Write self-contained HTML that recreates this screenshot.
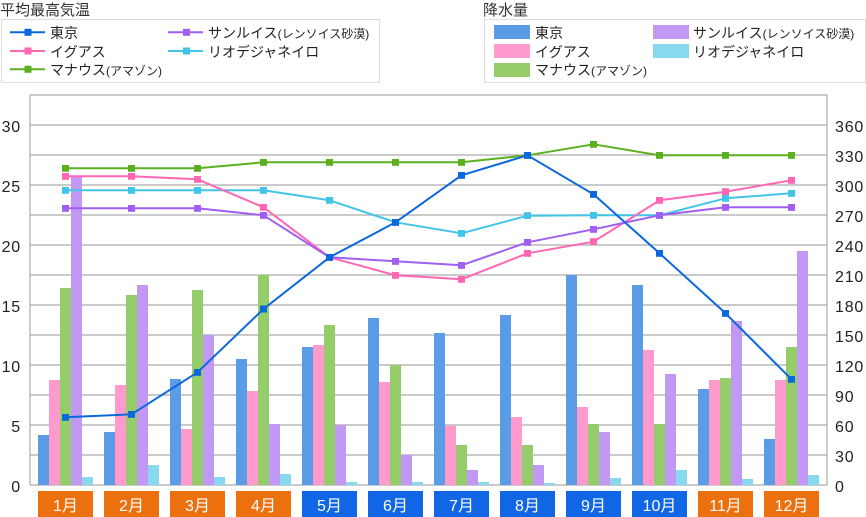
<!DOCTYPE html>
<html><head><meta charset="utf-8"><style>
html,body{margin:0;padding:0;background:#fff;}
svg{display:block;font-family:"Liberation Sans","Noto Sans CJK JP",sans-serif;}
</style></head><body>
<svg width="866" height="517" viewBox="0 0 866 517" xmlns="http://www.w3.org/2000/svg">
<defs>
<marker id="mb" markerWidth="7" markerHeight="7" refX="3.5" refY="3.5" markerUnits="userSpaceOnUse"><rect width="7" height="7" fill="#0a68dc"/></marker>
<marker id="mp" markerWidth="7" markerHeight="7" refX="3.5" refY="3.5" markerUnits="userSpaceOnUse"><rect width="7" height="7" fill="#ff66b3"/></marker>
<marker id="mg" markerWidth="7" markerHeight="7" refX="3.5" refY="3.5" markerUnits="userSpaceOnUse"><rect width="7" height="7" fill="#5bb020"/></marker>
<marker id="mv" markerWidth="7" markerHeight="7" refX="3.5" refY="3.5" markerUnits="userSpaceOnUse"><rect width="7" height="7" fill="#a05ff0"/></marker>
<marker id="mc" markerWidth="7" markerHeight="7" refX="3.5" refY="3.5" markerUnits="userSpaceOnUse"><rect width="7" height="7" fill="#42c3e8"/></marker>
</defs>

<!-- Titles -->
<text x="0" y="15" font-size="15" fill="#333">平均最高気温</text>
<text x="483" y="15" font-size="15" fill="#333">降水量</text>

<!-- Left legend -->
<rect x="1.5" y="19.5" width="378" height="63" fill="#fff" stroke="#ddd"/>
<g stroke-width="2">
<line x1="10" y1="32.3" x2="45" y2="32.3" stroke="#0a68dc"/>
<line x1="10" y1="51" x2="45" y2="51" stroke="#ff66b3"/>
<line x1="10" y1="69.3" x2="45" y2="69.3" stroke="#5bb020"/>
<line x1="168" y1="32.3" x2="203" y2="32.3" stroke="#a05ff0"/>
<line x1="168" y1="51" x2="203" y2="51" stroke="#42c3e8"/>
</g>
<rect x="24.5" y="28.8" width="7" height="7" fill="#0a68dc"/>
<rect x="24.5" y="47.5" width="7" height="7" fill="#ff66b3"/>
<rect x="24.5" y="65.8" width="7" height="7" fill="#5bb020"/>
<rect x="183" y="28.8" width="7" height="7" fill="#a05ff0"/>
<rect x="183" y="47.5" width="7" height="7" fill="#42c3e8"/>
<g font-size="14" fill="#222">
<text x="50" y="38">東京</text>
<text x="50" y="57">イグアス</text>
<text x="50" y="75">マナウス<tspan font-size="12">(アマゾン)</tspan></text>
<text x="208" y="38">サンルイス<tspan font-size="12">(レンソイス砂漠)</tspan></text>
<text x="208" y="57">リオデジャネイロ</text>
</g>

<!-- Right legend -->
<rect x="484.5" y="19.5" width="381" height="63" fill="#fff" stroke="#ddd"/>
<rect x="494" y="25" width="36" height="14" fill="#5a9de6"/>
<rect x="494" y="44" width="36" height="14" fill="#ff9acc"/>
<rect x="494" y="63" width="36" height="14" fill="#95cd6b"/>
<rect x="653" y="25" width="36" height="14" fill="#c298f5"/>
<rect x="653" y="44" width="36" height="14" fill="#88d8f0"/>
<g font-size="14" fill="#222">
<text x="535" y="38">東京</text>
<text x="535" y="57">イグアス</text>
<text x="535" y="75">マナウス<tspan font-size="12">(アマゾン)</tspan></text>
<text x="693" y="38">サンルイス<tspan font-size="12">(レンソイス砂漠)</tspan></text>
<text x="693" y="57">リオデジャネイロ</text>
</g>

<!-- Grid -->
<g stroke="#aaa" stroke-width="1.2">
<line x1="30" y1="95" x2="827" y2="95"/>
<line x1="30" y1="125" x2="827" y2="125"/>
<line x1="30" y1="155" x2="827" y2="155"/>
<line x1="30" y1="185" x2="827" y2="185"/>
<line x1="30" y1="215" x2="827" y2="215"/>
<line x1="30" y1="245" x2="827" y2="245"/>
<line x1="30" y1="275" x2="827" y2="275"/>
<line x1="30" y1="305" x2="827" y2="305"/>
<line x1="30" y1="335" x2="827" y2="335"/>
<line x1="30" y1="365" x2="827" y2="365"/>
<line x1="30" y1="395" x2="827" y2="395"/>
<line x1="30" y1="425" x2="827" y2="425"/>
<line x1="30" y1="455" x2="827" y2="455"/>
<line x1="30" y1="485" x2="827" y2="485"/>
<line x1="30" y1="95" x2="30" y2="485"/>
<line x1="827" y1="95" x2="827" y2="485"/>
</g>

<!-- Axis labels -->
<g font-size="16" fill="#222" text-anchor="end" letter-spacing="0.8">
<text x="21" y="132">30</text>
<text x="21" y="192">25</text>
<text x="21" y="252">20</text>
<text x="21" y="312">15</text>
<text x="21" y="372">10</text>
<text x="21" y="432">5</text>
<text x="21" y="492">0</text>
</g>
<g font-size="16" fill="#222" letter-spacing="0.8">
<text x="835" y="132">360</text>
<text x="835" y="162">330</text>
<text x="835" y="192">300</text>
<text x="835" y="222">270</text>
<text x="835" y="252">240</text>
<text x="835" y="282">210</text>
<text x="835" y="312">180</text>
<text x="835" y="342">150</text>
<text x="835" y="372">120</text>
<text x="835" y="402">90</text>
<text x="835" y="432">60</text>
<text x="835" y="462">30</text>
<text x="835" y="492">0</text>
</g>

<!-- Bars: blue -->
<g fill="#5a9de6">
<rect x="38" y="435" width="11" height="50"/>
<rect x="104" y="432" width="11" height="53"/>
<rect x="170" y="379" width="11" height="106"/>
<rect x="236" y="359" width="11" height="126"/>
<rect x="302" y="347" width="11" height="138"/>
<rect x="368" y="318" width="11" height="167"/>
<rect x="434" y="333" width="11" height="152"/>
<rect x="500" y="315" width="11" height="170"/>
<rect x="566" y="275" width="11" height="210"/>
<rect x="632" y="285" width="11" height="200"/>
<rect x="698" y="389" width="11" height="96"/>
<rect x="764" y="439" width="11" height="46"/>
</g>
<g fill="#ff9acc">
<rect x="49" y="380" width="11" height="105"/>
<rect x="115" y="385" width="11" height="100"/>
<rect x="181" y="429" width="11" height="56"/>
<rect x="247" y="391" width="11" height="94"/>
<rect x="313" y="345" width="11" height="140"/>
<rect x="379" y="382" width="11" height="103"/>
<rect x="445" y="426" width="11" height="59"/>
<rect x="511" y="417" width="11" height="68"/>
<rect x="577" y="407" width="11" height="78"/>
<rect x="643" y="350" width="11" height="135"/>
<rect x="709" y="380" width="11" height="105"/>
<rect x="775" y="380" width="11" height="105"/>
</g>
<g fill="#95cd6b">
<rect x="60" y="288" width="11" height="197"/>
<rect x="126" y="295" width="11" height="190"/>
<rect x="192" y="290" width="11" height="195"/>
<rect x="258" y="275" width="11" height="210"/>
<rect x="324" y="325" width="11" height="160"/>
<rect x="390" y="365" width="11" height="120"/>
<rect x="456" y="445" width="11" height="40"/>
<rect x="522" y="445" width="11" height="40"/>
<rect x="588" y="424" width="11" height="61"/>
<rect x="654" y="424" width="11" height="61"/>
<rect x="720" y="378" width="11" height="107"/>
<rect x="786" y="347" width="11" height="138"/>
</g>
<g fill="#c298f5">
<rect x="71" y="177" width="11" height="308"/>
<rect x="137" y="285" width="11" height="200"/>
<rect x="203" y="335" width="11" height="150"/>
<rect x="269" y="424" width="11" height="61"/>
<rect x="335" y="425" width="11" height="60"/>
<rect x="401" y="455" width="11" height="30"/>
<rect x="467" y="470" width="11" height="15"/>
<rect x="533" y="465" width="11" height="20"/>
<rect x="599" y="432" width="11" height="53"/>
<rect x="665" y="374" width="11" height="111"/>
<rect x="731" y="321" width="11" height="164"/>
<rect x="797" y="251" width="11" height="234"/>
</g>
<g fill="#88d8f0">
<rect x="82" y="477" width="11" height="8"/>
<rect x="148" y="465" width="11" height="20"/>
<rect x="214" y="477" width="11" height="8"/>
<rect x="280" y="474" width="11" height="11"/>
<rect x="346" y="482" width="11" height="3"/>
<rect x="412" y="482" width="11" height="3"/>
<rect x="478" y="482" width="11" height="3"/>
<rect x="544" y="483" width="11" height="2"/>
<rect x="610" y="478" width="11" height="7"/>
<rect x="676" y="470" width="11" height="15"/>
<rect x="742" y="479" width="11" height="6"/>
<rect x="808" y="475" width="11" height="10"/>
</g>

<!-- Lines -->
<g fill="none" stroke-width="2" stroke-linejoin="round">
<polyline stroke="#42c3e8" marker-start="url(#mc)" marker-mid="url(#mc)" marker-end="url(#mc)" points="65.5,190.3 131.5,190.3 197.5,190.3 263.5,190.3 329.5,200.3 395.5,222.3 461.5,233.3 527.5,215.7 593.5,215.3 659.5,215.3 725.5,198.3 791.5,193.3"/>
<polyline stroke="#5bb020" marker-start="url(#mg)" marker-mid="url(#mg)" marker-end="url(#mg)" points="65.5,168.3 131.5,168.3 197.5,168.3 263.5,162.3 329.5,162.3 395.5,162.3 461.5,162.3 527.5,155.3 593.5,144.3 659.5,155.3 725.5,155.3 791.5,155.3"/>
<polyline stroke="#ff66b3" marker-start="url(#mp)" marker-mid="url(#mp)" marker-end="url(#mp)" points="65.5,176.3 131.5,176.3 197.5,179.3 263.5,207.3 329.5,257.3 395.5,275.3 461.5,279.3 527.5,253.3 593.5,241.7 659.5,200.3 725.5,191.7 791.5,180.3"/>
<polyline stroke="#a05ff0" marker-start="url(#mv)" marker-mid="url(#mv)" marker-end="url(#mv)" points="65.5,208.3 131.5,208.3 197.5,208.3 263.5,215.3 329.5,257.3 395.5,261.3 461.5,265.3 527.5,242.3 593.5,229.3 659.5,215.3 725.5,207.3 791.5,207.3"/>
<polyline stroke="#0a68dc" marker-start="url(#mb)" marker-mid="url(#mb)" marker-end="url(#mb)" points="65.5,417.3 131.5,414.3 197.5,372.3 263.5,309 329.5,257.3 395.5,222.3 461.5,175.3 527.5,155.3 593.5,194.3 659.5,253.3 725.5,313.3 791.5,379.3"/>
</g>

<!-- Month labels -->
<g>
<rect x="38" y="491" width="55" height="27" fill="#ec700e"/>
<rect x="104" y="491" width="55" height="27" fill="#ec700e"/>
<rect x="170" y="491" width="55" height="27" fill="#ec700e"/>
<rect x="236" y="491" width="55" height="27" fill="#ec700e"/>
<rect x="302" y="491" width="55" height="27" fill="#1166e6"/>
<rect x="368" y="491" width="55" height="27" fill="#1166e6"/>
<rect x="434" y="491" width="55" height="27" fill="#1166e6"/>
<rect x="500" y="491" width="55" height="27" fill="#1166e6"/>
<rect x="566" y="491" width="55" height="27" fill="#1166e6"/>
<rect x="632" y="491" width="55" height="27" fill="#1166e6"/>
<rect x="698" y="491" width="55" height="27" fill="#ec700e"/>
<rect x="764" y="491" width="55" height="27" fill="#ec700e"/>
</g>
<g font-size="16" fill="#fff" text-anchor="middle">
<text x="65.5" y="511">1月</text>
<text x="131.5" y="511">2月</text>
<text x="197.5" y="511">3月</text>
<text x="263.5" y="511">4月</text>
<text x="329.5" y="511">5月</text>
<text x="395.5" y="511">6月</text>
<text x="461.5" y="511">7月</text>
<text x="527.5" y="511">8月</text>
<text x="593.5" y="511">9月</text>
<text x="659.5" y="511">10月</text>
<text x="725.5" y="511">11月</text>
<text x="791.5" y="511">12月</text>
</g>
</svg>
</body></html>
